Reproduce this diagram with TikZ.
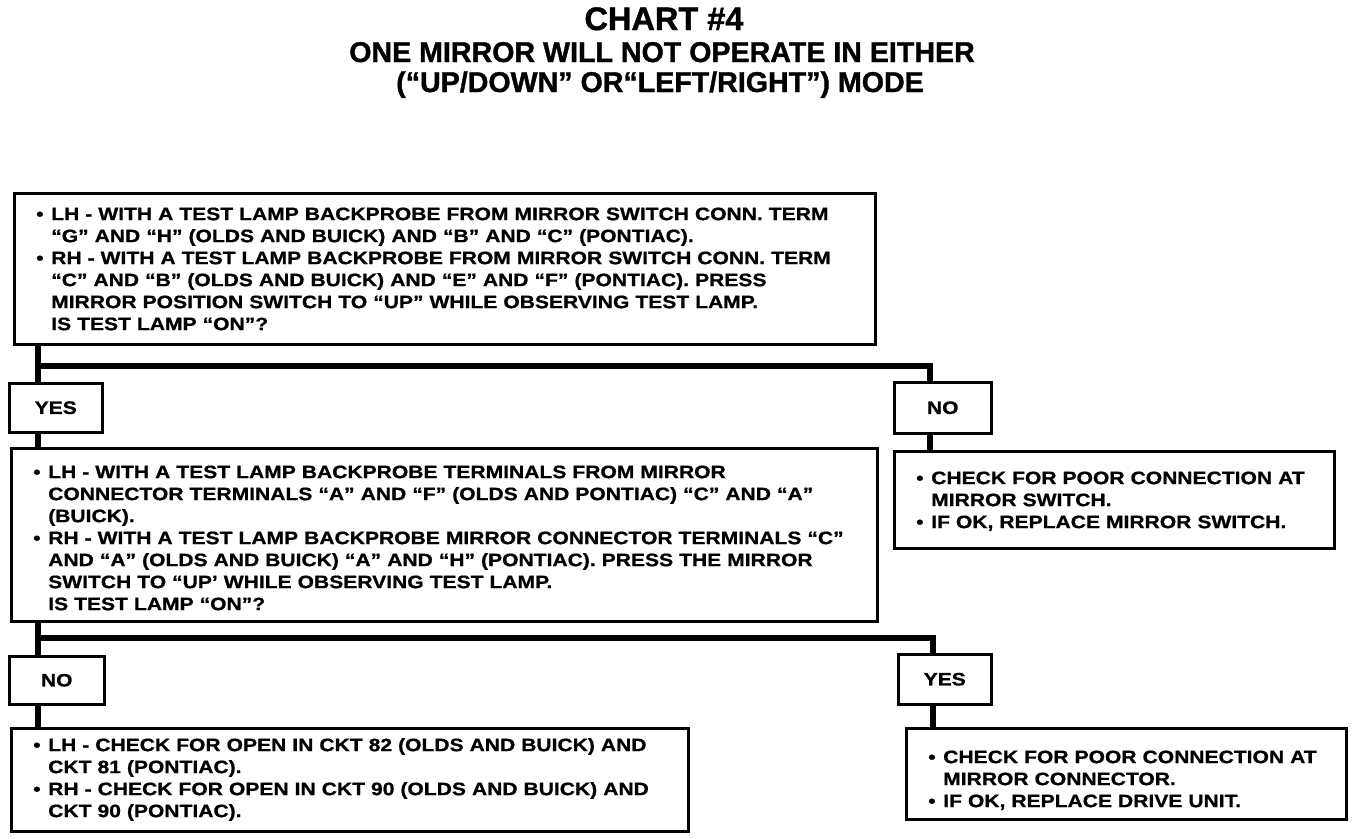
\documentclass[tikz,border=0pt]{standalone}
\usepackage{fontspec}
\setmainfont{Liberation Sans}[BoldFeatures={FakeBold=1.2}]
\newfontfamily\chartfont{Liberation Sans}[FakeStretch=1.17,BoldFeatures={FakeBold=0.9}]
\usepackage{tikz}

\newcommand{\boxtxt}{\chartfont\bfseries\fontsize{18}{22}\selectfont}
\newcommand{\dropby}[1]{\raisebox{-#1}[\height][\depth]}

\begin{document}
\begin{tikzpicture}[
  x=1pt,y=-1pt,
  title/.style={anchor=base,font=\bfseries\fontsize{28.6}{32}\selectfont},
  block/.style={draw,line width=2.5pt,anchor=north west,inner xsep=22pt,inner ysep=0pt,align=left,font=\boxtxt},
  answer/.style={draw,line width=2.5pt,anchor=north west,inner sep=0pt,font=\boxtxt},
  wire/.style={line width=5.5pt,line join=miter}
]
\useasboundingbox (0,0) rectangle (1360,838);

% heading
\node[title,font=\bfseries\fontsize{32.5}{36}\selectfont] (chart) at (664,30) {CHART \#4};
\node[title] (head1) at (662,62) {ONE MIRROR WILL NOT OPERATE IN EITHER};
\node[title] (head2) at (660,92) {(“UP/DOWN” OR“LEFT/RIGHT”) MODE};

% first test
\node[block,minimum width=861pt,minimum height=151pt,text width=817pt] (switch) at (13,192) {%
\dropby{2pt}{\begin{tabular}{@{}p{15pt}@{}l@{}}
\textbullet & LH - WITH A TEST LAMP BACKPROBE FROM MIRROR SWITCH CONN. TERM\\
 & “G” AND “H” (OLDS AND BUICK) AND “B” AND “C” (PONTIAC).\\
\textbullet & RH - WITH A TEST LAMP BACKPROBE FROM MIRROR SWITCH CONN. TERM\\
 & “C” AND “B” (OLDS AND BUICK) AND “E” AND “F” (PONTIAC). PRESS\\
 & MIRROR POSITION SWITCH TO “UP” WHILE OBSERVING TEST LAMP.\\
 & IS TEST LAMP “ON”?
\end{tabular}}};
\node[answer,minimum width=93pt,minimum height=49pt] (yesa) at (8,382) {YES};
\node[answer,minimum width=97pt,minimum height=51pt] (noa) at (893,381) {NO};

% second test
\node[block,minimum width=866pt,minimum height=173pt,text width=822pt] (mirror) at (10,447) {%
\dropby{5pt}{\begin{tabular}{@{}p{15pt}@{}l@{}}
\textbullet & LH - WITH A TEST LAMP BACKPROBE TERMINALS FROM MIRROR\\
 & CONNECTOR TERMINALS “A” AND “F” (OLDS AND PONTIAC) “C” AND “A”\\
 & (BUICK).\\
\textbullet & RH - WITH A TEST LAMP BACKPROBE MIRROR CONNECTOR TERMINALS “C”\\
 & AND “A” (OLDS AND BUICK) “A” AND “H” (PONTIAC). PRESS THE MIRROR\\
 & SWITCH TO “UP’ WHILE OBSERVING TEST LAMP.\\
 & IS TEST LAMP “ON”?
\end{tabular}}};
\node[block,minimum width=440pt,minimum height=97pt,text width=396pt] (swfix) at (893,450) {%
\dropby{2pt}{\begin{tabular}{@{}p{15pt}@{}l@{}}
\textbullet & CHECK FOR POOR CONNECTION AT\\
 & MIRROR SWITCH.\\
\textbullet & IF OK, REPLACE MIRROR SWITCH.
\end{tabular}}};
\node[answer,minimum width=95pt,minimum height=48pt] (nob) at (8,655) {NO};
\node[answer,minimum width=93pt,minimum height=50pt] (yesb) at (897,653) {YES};

% repairs
\node[block,minimum width=677pt,minimum height=103pt,text width=633pt] (ckt) at (10,727) {%
\begin{tabular}{@{}p{15pt}@{}l@{}}
\textbullet & LH - CHECK FOR OPEN IN CKT 82 (OLDS AND BUICK) AND\\
 & CKT 81 (PONTIAC).\\
\textbullet & RH - CHECK FOR OPEN IN CKT 90 (OLDS AND BUICK) AND\\
 & CKT 90 (PONTIAC).
\end{tabular}};
\node[block,minimum width=440pt,minimum height=91pt,text width=396pt] (drive) at (905,727) {%
\dropby{7pt}{\begin{tabular}{@{}p{15pt}@{}l@{}}
\textbullet & CHECK FOR POOR CONNECTION AT\\
 & MIRROR CONNECTOR.\\
\textbullet & IF OK, REPLACE DRIVE UNIT.
\end{tabular}}};

% branch lines
\coordinate (ja) at (38,366);
\coordinate (jar) at (930,366);
\coordinate (jb) at (38,638);
\coordinate (jbr) at (933,638);
\draw[wire] (switch.south -| ja) -- (yesa.north -| ja);
\draw[wire] (ja) -- (jar) -- (noa.north -| jar);
\draw[wire] (yesa.south -| ja) -- (mirror.north -| ja);
\draw[wire] (noa.south -| jar) -- (swfix.north -| jar);
\draw[wire] (mirror.south -| jb) -- (nob.north -| jb);
\draw[wire] (jb) -- (jbr) -- (yesb.north -| jbr);
\draw[wire] (nob.south -| jb) -- (ckt.north -| jb);
\draw[wire] (yesb.south -| jbr) -- (drive.north -| jbr);
\end{tikzpicture}
\end{document}
